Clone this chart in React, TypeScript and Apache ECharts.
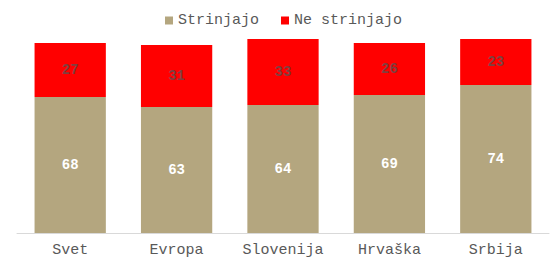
import React, { useEffect, useRef } from "react";
import * as echarts from "echarts";

const categories = ["Svet", "Evropa", "Slovenija", "Hrvaška", "Srbija"];
const agree = [68, 63, 64, 69, 74];
const disagree = [27, 31, 33, 26, 23];
const seriesNames = ["Strinjajo", "Ne strinjajo"];

const FONT = "'Liberation Mono', 'Courier New', monospace";

export default function App() {
  const ref = useRef<HTMLDivElement>(null);
  useEffect(() => {
    if (!ref.current) return;
    const chart = echarts.init(ref.current, undefined, { renderer: "svg" });
    chart.setOption({
      animation: false,
      legend: {
        data: seriesNames,
        left: 160,
        top: 8,
        itemWidth: 8,
        itemHeight: 8,
        itemGap: 22,
        itemTextGap: 3,
        icon: "rect",
        textStyle: { fontFamily: FONT, fontSize: 15, color: "#595959" },
      },
      grid: { left: 17, right: 3, top: 33, bottom: 32, containLabel: false },
      xAxis: {
        type: "category",
        data: categories,
        axisLine: { lineStyle: { color: "#D9D9D9", width: 1 } },
        axisTick: { show: false },
        axisLabel: { fontFamily: FONT, fontSize: 15, color: "#595959", margin: 10 },
      },
      yAxis: {
        type: "value",
        min: 0,
        max: 100,
        show: false,
        splitLine: { show: false },
      },
      series: [
        {
          name: seriesNames[0],
          type: "bar",
          stack: "total",
          data: agree,
          barWidth: "67%",
          itemStyle: { color: "#B4A67F" },
          label: {
            show: true,
            position: "inside",
            color: "#FFFFFF",
            fontFamily: FONT,
            fontSize: 14,
            fontWeight: "bold",
          },
        },
        {
          name: seriesNames[1],
          type: "bar",
          stack: "total",
          data: disagree,
          barWidth: "67%",
          itemStyle: { color: "#FF0000" },
          label: {
            show: true,
            position: "inside",
            color: "#7F3F3F",
            fontFamily: FONT,
            fontSize: 14,
            fontWeight: "bold",
          },
        },
      ],
    });
    return () => chart.dispose();
  }, []);
  return (
    <div
      ref={ref}
      style={{ position: "fixed", left: 0, top: 0, width: 552, height: 265, background: "#fff" }}
    />
  );
}
